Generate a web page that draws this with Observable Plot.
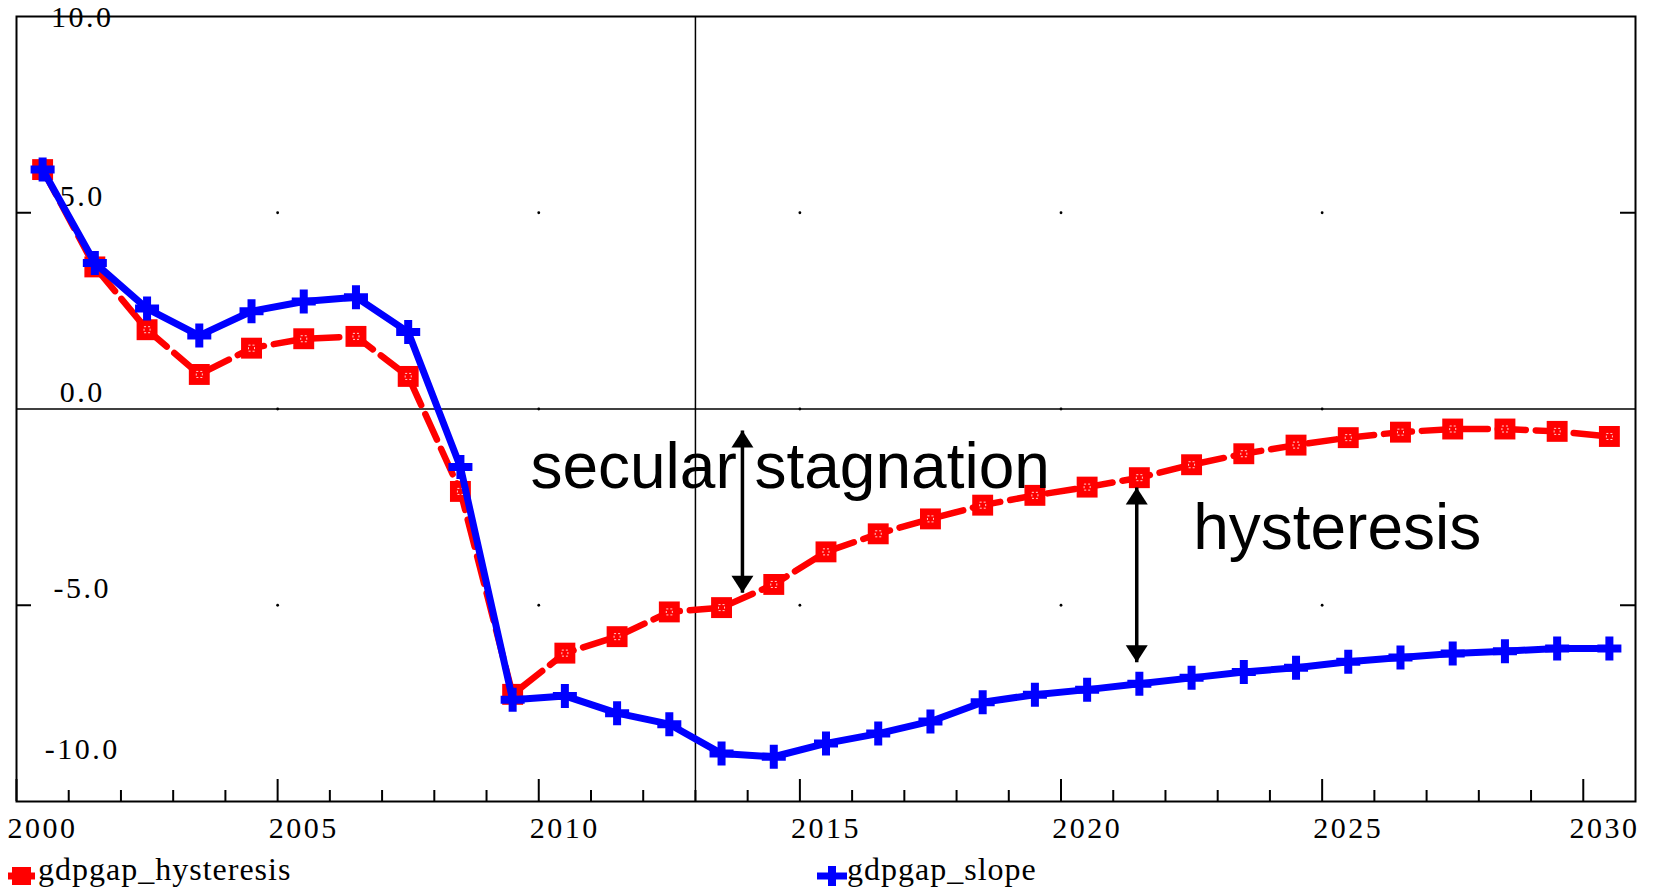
<!DOCTYPE html>
<html>
<head>
<meta charset="utf-8">
<script src="https://cdn.jsdelivr.net/npm/d3@7"></script>
<script src="https://cdn.jsdelivr.net/npm/@observablehq/plot@0.6"></script>
<style>
html, body { margin: 0; padding: 0; background: #fff; overflow: hidden; }
#chart svg { display: block; }
g[font-family="Liberation Serif"] text { letter-spacing: 2.5px; }
#legend { display: block; }
</style>
</head>
<body>
<div id="chart"></div>
<svg id="legend" width="1655" height="39"></svg>
<script>
// ---- data ----
const years = [2000, 2001, 2002, 2003, 2004, 2005, 2006, 2007, 2008, 2009,
               2010, 2011, 2012, 2013, 2014, 2015, 2016, 2017, 2018, 2019,
               2020, 2021, 2022, 2023, 2024, 2025, 2026, 2027, 2028, 2029, 2030];
const gdpgap_hysteresis = [6.10, 3.62, 2.02, 0.88, 1.55, 1.79, 1.85, 0.83, -2.10, -7.27,
                           -6.22, -5.80, -5.17, -5.06, -4.47, -3.64, -3.18, -2.80, -2.45, -2.20,
                           -1.99, -1.75, -1.42, -1.14, -0.92, -0.73, -0.59, -0.51, -0.51, -0.57, -0.70];
const gdpgap_slope = [6.10, 3.72, 2.56, 1.87, 2.49, 2.74, 2.85, 1.96, -1.48, -7.41,
                      -7.31, -7.75, -8.03, -8.78, -8.86, -8.52, -8.27, -7.96, -7.47, -7.28,
                      -7.15, -7.00, -6.85, -6.70, -6.59, -6.44, -6.33, -6.23, -6.17, -6.10, -6.10];
const seriesNames = ["gdpgap_hysteresis", "gdpgap_slope"];
const xTickLabels = [2000, 2005, 2010, 2015, 2020, 2025, 2030];
const yTickValues = [10, 5, 0, -5, -10];
const markerLine = [2013];
const annotationTexts = [
  {label: "secular stagnation", year: 2009.84, value: -2.0},
  {label: "hysteresis", year: 2022.53, value: -3.56}
];
const annotationArrows = [
  {year: 2013.9, top: -0.55, bottom: -4.68},
  {year: 2021.45, top: -2.0, bottom: -6.45}
];

// ---- tables ----
const hyst = years.map((y, i) => ({year: y, value: gdpgap_hysteresis[i]}));
const slope = years.map((y, i) => ({year: y, value: gdpgap_slope[i]}));
const majorYears = years.filter(y => y % 5 === 0);
const minorYears = years.filter(y => y % 5 !== 0);
const gridDots = xTickLabels.filter(y => y > 2000 && y < 2030)
  .flatMap(y => [5, 0, -5].map(v => ({year: y, value: v})));

// ---- layout ----
const W = 1655, H = 848, mL = 16, mR = 20, mT = 16, mB = 47;
const frameH = H - mT - mB, frameW = W - mL - mR;
const serif = "Liberation Serif";
const sans = "Liberation Sans";
const tickFont = 30;
const fmt = d => d3.format(".1f")(d).replace("\u2212", "-");

const headUp = {draw(ctx) { ctx.moveTo(0, 0); ctx.lineTo(-11, 17); ctx.lineTo(11, 17); ctx.closePath(); }};
const headDown = {draw(ctx) { ctx.moveTo(0, 0); ctx.lineTo(-11, -17); ctx.lineTo(11, -17); ctx.closePath(); }};

const mid = d => d.year + 0.5;

const chart = Plot.plot({
  width: W, height: H,
  marginLeft: mL, marginRight: mR, marginTop: mT, marginBottom: mB,
  x: {domain: [2000, 2031], axis: null},
  y: {domain: [-10, 10], axis: null},
  style: {background: "#fff", overflow: "visible"},
  marks: [
    // grid dots
    Plot.dot(gridDots, {x: "year", y: "value", r: 1.4, fill: "black"}),
    // zero line and vertical marker
    Plot.ruleY([0], {stroke: "black", strokeWidth: 1.5}),
    Plot.ruleX(markerLine, {stroke: "black", strokeWidth: 1.5}),
    // x ticks (pointing inward from bottom)
    Plot.tickX(majorYears, {x: d => d, stroke: "black", strokeWidth: 2, insetTop: frameH - 22}),
    Plot.tickX(minorYears, {x: d => d, stroke: "black", strokeWidth: 2, insetTop: frameH - 11}),
    // y ticks left and right
    Plot.tickY([5, -5], {y: d => d, stroke: "black", strokeWidth: 2, insetRight: frameW - 15}),
    Plot.tickY([5, -5], {y: d => d, stroke: "black", strokeWidth: 2, insetLeft: frameW - 15}),
    Plot.frame({stroke: "black", strokeWidth: 2}),
    // x tick labels
    Plot.text(xTickLabels.filter(d => d < 2030), {x: d => d + 0.5, y: -10, text: d => String(d), dy: 36,
      lineAnchor: "bottom", textAnchor: "middle", fontFamily: serif, fontSize: tickFont, fill: "black"}),
    Plot.text(xTickLabels.filter(d => d === 2030), {x: d => d + 1, y: -10, text: d => String(d), dy: 36, dx: 4,
      lineAnchor: "bottom", textAnchor: "end", fontFamily: serif, fontSize: tickFont, fill: "black"}),
    // y tick labels
    Plot.text(yTickValues.filter(d => d !== 10 && d !== -10), {x: 2001.26, y: d => d, text: fmt,
      dy: -7, lineAnchor: "bottom", textAnchor: "middle", fontFamily: serif, fontSize: tickFont, fill: "black"}),
    Plot.text(yTickValues.filter(d => d === 10), {x: 2001.26, y: d => d, text: fmt,
      dy: 10, lineAnchor: "bottom", textAnchor: "middle", fontFamily: serif, fontSize: tickFont, fill: "black"}),
    Plot.text(yTickValues.filter(d => d === -10), {x: 2001.26, y: d => d, text: fmt,
      dy: -43, lineAnchor: "bottom", textAnchor: "middle", fontFamily: serif, fontSize: tickFont, fill: "black"}),
    // hysteresis series
    Plot.line(hyst, {x: mid, y: "value", stroke: "#ff0000", strokeWidth: 6.5, strokeDasharray: "28,10"}),
    Plot.dot(hyst, {x: mid, y: "value", symbol: "square", r: 11.8, fill: "#ff0000"}),
    Plot.dot(hyst, {x: mid, y: "value", symbol: "square", r: 3.4, fill: "none", stroke: "#ffd0d0", strokeWidth: 1, strokeDasharray: "2,2"}),
    // slope series
    Plot.line(slope, {x: mid, y: "value", stroke: "#0000ff", strokeWidth: 7}),
    Plot.dot(slope, {x: mid, y: "value", symbol: "cross", r: 10.1, fill: "#0000ff"}),
    // annotations
    Plot.link(annotationArrows, {x1: "year", x2: "year", y1: "top", y2: "bottom", stroke: "black", strokeWidth: 3.5}),
    Plot.dot(annotationArrows, {x: "year", y: "top", symbol: headUp, fill: "black", r: 5}),
    Plot.dot(annotationArrows, {x: "year", y: "bottom", symbol: headDown, fill: "black", r: 5}),
    Plot.text(annotationTexts, {x: "year", y: "value", text: "label", textAnchor: "start", lineAnchor: "bottom",
      fontFamily: sans, fontSize: 64, fill: "black"})
  ]
});
document.getElementById("chart").appendChild(chart);

// ---- legend (below the plot) ----
const lg = d3.select("#legend");
lg.append("line").attr("x1", 8).attr("x2", 35).attr("y1", 28).attr("y2", 28).attr("stroke", "#ff0000").attr("stroke-width", 7);
lg.append("rect").attr("x", 12).attr("y", 19).attr("width", 19).attr("height", 18).attr("fill", "#ff0000");
lg.append("text").attr("x", 38).attr("y", 32).attr("font-family", serif).attr("font-size", 32)
  .attr("letter-spacing", "1px").text(seriesNames[0]);
lg.append("line").attr("x1", 817).attr("x2", 847).attr("y1", 28).attr("y2", 28).attr("stroke", "#0000ff").attr("stroke-width", 7);
lg.append("rect").attr("x", 828).attr("y", 18).attr("width", 8).attr("height", 20).attr("fill", "#0000ff");
lg.append("text").attr("x", 847).attr("y", 32).attr("font-family", serif).attr("font-size", 32)
  .attr("letter-spacing", "1px").text(seriesNames[1]);
</script>
</body>
</html>
